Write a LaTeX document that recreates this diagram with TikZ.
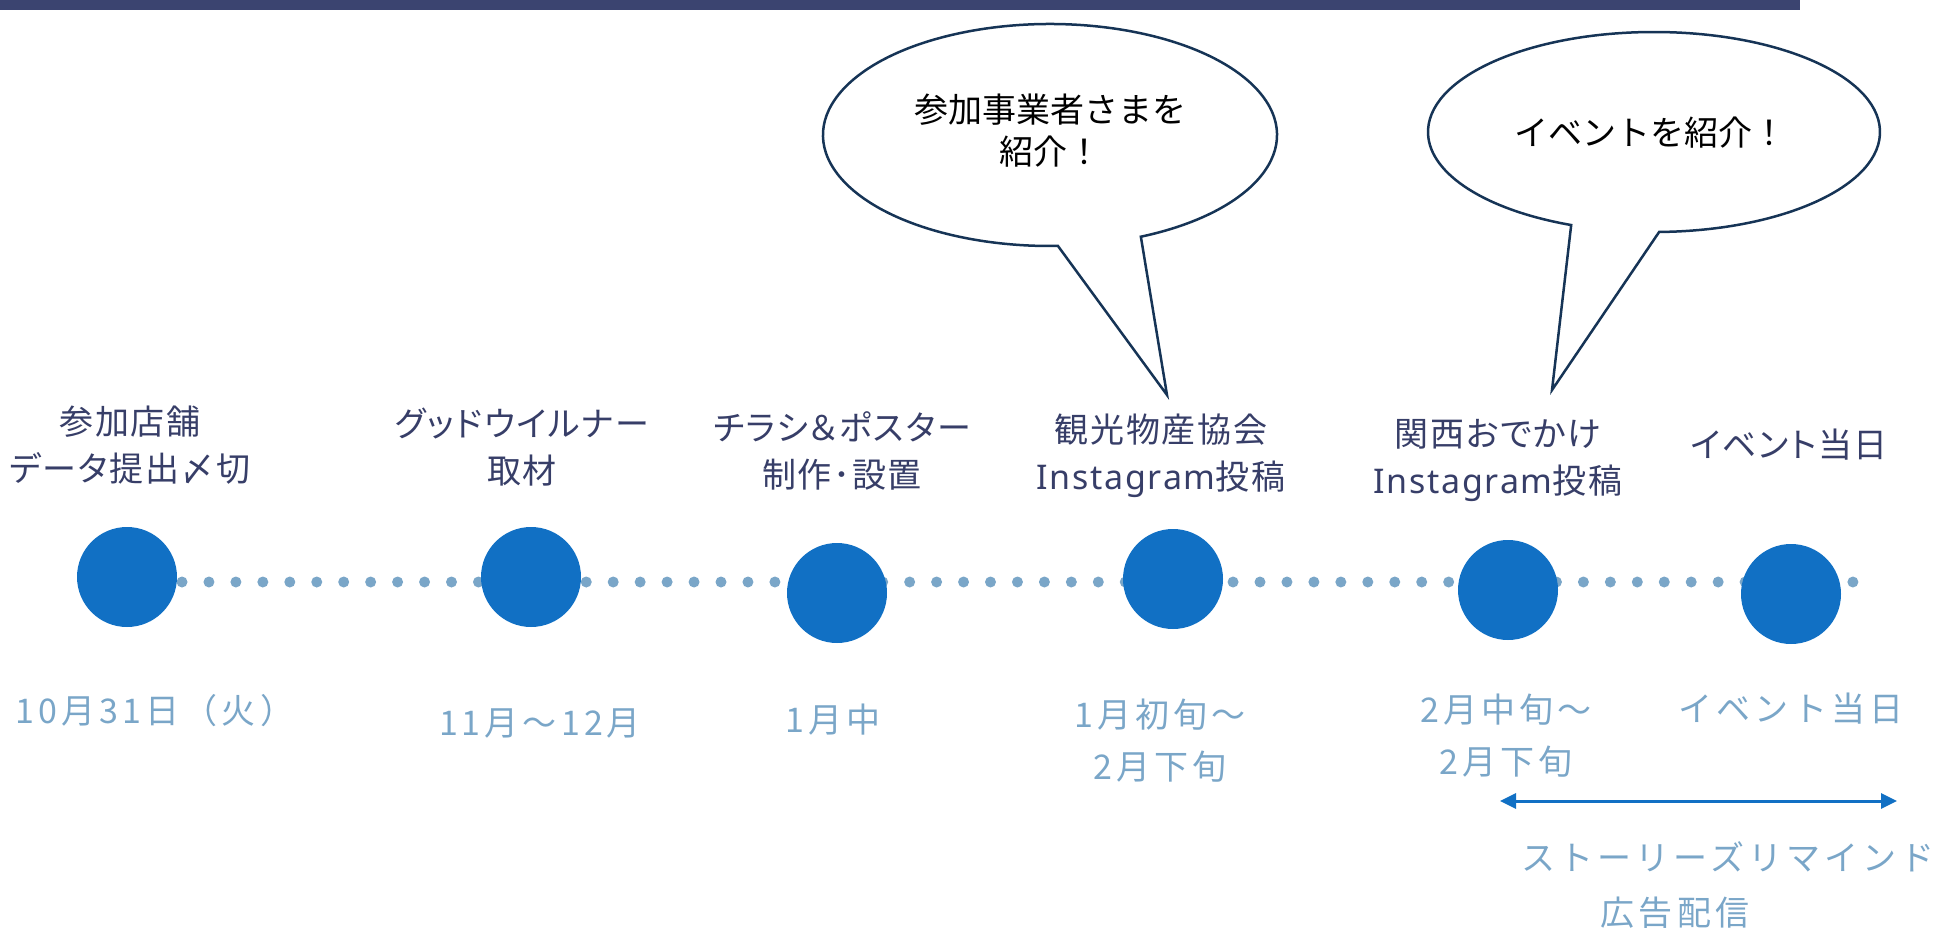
\documentclass[tikz,border=0pt]{standalone}
\usepackage{fontspec}
\setmainfont{Noto Sans CJK JP}
\newfontfamily\jpdark{Noto Sans CJK JP}[RawFeature=+palt, LetterSpace=5]
\newfontfamily\jpbubble{Noto Sans CJK JP}
\newfontfamily\latdark{Noto Sans}[LetterSpace=5]
\newfontfamily\jplight{Noto Sans CJK JP}[LetterSpace=12]
\usetikzlibrary{arrows.meta}
\definecolor{barnavy}{RGB}{59,68,112}
\definecolor{labelnavy}{RGB}{55,62,104}
\definecolor{lightblue}{RGB}{122,166,200}
\definecolor{dotblue}{RGB}{122,166,200}
\definecolor{circblue}{RGB}{17,112,196}
\definecolor{bubbleline}{RGB}{22,52,86}
\tikzset{
  darklabel/.style={text=labelnavy, font=\jpdark\fontsize{34}{47}\selectfont, align=center, inner sep=0pt},
  lightlabel/.style={text=lightblue, font=\jplight\fontsize{34}{52}\selectfont, align=center, inner sep=0pt},
  milestone/.style={circle, fill=circblue, minimum size=100pt, inner sep=0pt},
  bubble/.style={draw=bubbleline, line width=2.5pt, fill=white, line join=miter},
  bubbletext/.style={text=black, font=\jpbubble\fontsize{34}{42}\selectfont, align=center, inner sep=0pt},
  dotline/.style={draw=dotblue, line width=11pt, line cap=round, dash pattern=on 0pt off 26.95pt},
  spanarrow/.style={draw=circblue, line width=3pt, {Triangle[length=16pt,width=15pt]}-{Triangle[length=16pt,width=15pt]}}
}
\begin{document}
\begin{tikzpicture}[x=1pt,y=-1pt]
\useasboundingbox (0,0) rectangle (1947,928);
% top bar
\fill[barnavy] (0,0) rectangle (1800,10);

% bubbles
\coordinate (c1) at (1050,135);
\coordinate (tip1) at (1167,395);
\draw[bubble] (c1) ++(66.4:227 and 111) arc[start angle=66.4, end angle=-272, x radius=227, y radius=111] -- (tip1) -- cycle;
\node[bubbletext] (b1) at (1050,131) {参加事業者さまを\\紹介！};

\coordinate (c2) at (1654,132);
\coordinate (tip2) at (1552,390);
\draw[bubble] (c2) ++(88.7:226 and 100) arc[start angle=88.7, end angle=-248.5, x radius=226, y radius=100] -- (tip2) -- cycle;
\node[bubbletext] (b2) at (1650,133) {イベントを紹介！};

% dotted timeline
\coordinate (dstart) at (182,582);
\coordinate (dend) at (1853,582);
\draw[dotline] (dstart) -- (dend);

% milestones
\node[milestone] (m1) at (127,577) {};
\node[milestone] (m2) at (531,577) {};
\node[milestone] (m3) at (837,593) {};
\node[milestone] (m4) at (1173,579) {};
\node[milestone] (m5) at (1508,590) {};
\node[milestone] (m6) at (1791,594) {};

% upper labels
\node[darklabel] (t1) at (130,445) {参加店舗\\データ提出〆切};
\node[darklabel] (t2) at (522,447) {グッドウイルナー\\取材};
\node[darklabel] (t3) at (842,451) {チラシ＆ポスター\\制作･設置};
\node[darklabel] (t4) at (1161,456) {観光物産協会\\{\latdark Instagram}投稿};
\node[darklabel] (t5) at (1498,460) {関西おでかけ\\{\latdark Instagram}投稿};
\node[darklabel] (t6) at (1789,445) {イベント当日};

% lower labels
\node[lightlabel] (d1) at (155,711) {10月31日（火）};
\node[lightlabel] (d2) at (540,723) {11月～12月};
\node[lightlabel] (d3) at (833,720) {1月中};
\node[lightlabel] (d4) at (1160,741) {1月初旬～\\2月下旬};
\node[lightlabel] (d5) at (1506,736) {2月中旬～\\2月下旬};
\node[lightlabel] (d6) at (1791,709) {イベント当日};

% span arrow
\coordinate (a1) at (1500,801);
\coordinate (a2) at (1897,801);
\draw[spanarrow] (a1) -- (a2);
\node[lightlabel] (s1) at (1728,857) {ストーリーズリマインド};
\node[lightlabel] (s2) at (1675,913) {広告配信};
\end{tikzpicture}
\end{document}
